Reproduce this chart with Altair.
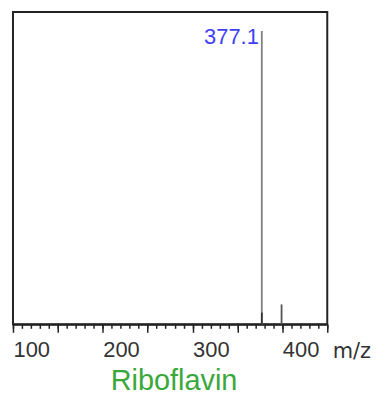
import altair as alt
import pandas as pd

# Peaks (m/z, relative intensity)
mz = [377.1, 377.1, 399.1]
intensity = [100.0, 4.0, 6.8]
kind = ["main", "base", "minor"]
label_text = ["377.1", "", ""]

major_ticks = list(range(100, 451, 50))
minor_ticks = list(range(100, 451, 10))

df = pd.DataFrame({"mz": mz, "intensity": intensity, "kind": kind, "label": label_text})

xscale = alt.Scale(domain=[100, 450], nice=False, zero=False)
yscale = alt.Scale(domain=[0, 106.5], nice=False, zero=True)

major_axis = alt.Axis(
    orient="bottom",
    values=major_ticks, tickSize=8, tickWidth=1.5, tickColor="#222",
    labelExpr="datum.value % 100 == 0 && datum.value < 450 ? datum.label : ''",
    labelAlign="left", labelBaseline="alphabetic", labelPadding=24,
    labelFont="Liberation Sans", labelFontSize=22, labelColor="#333",
    domain=True, domainColor="#222", domainWidth=2, grid=False,
    title="m/z", titleFont="DejaVu Sans", titleFontSize=21, titleFontWeight="normal",
    titleColor="#333", titleAlign="left", titleBaseline="alphabetic",
    titleX=321, titleY=33, labelOverlap=False,
)
minor_axis = alt.Axis(
    orient="bottom",
    values=minor_ticks, tickSize=4, tickWidth=1.5, tickColor="#222",
    labels=False, domain=False, grid=False, title=None,
)

base = alt.Chart(df)

peaks = base.mark_rule(strokeWidth=1.8).encode(
    x=alt.X("mz:Q", scale=xscale, axis=major_axis),
    y=alt.Y("intensity:Q", scale=yscale, axis=None),
    y2=alt.datum(0),
    color=alt.Color("kind:N", scale=alt.Scale(domain=["main", "base", "minor"],
                                             range=["#808080", "#333333", "#555555"]),
                    legend=None),
)

minor = base.mark_rule(opacity=0).encode(
    x=alt.X("mz:Q", scale=xscale, axis=minor_axis),
    y=alt.Y("intensity:Q", scale=yscale, axis=None),
)

labels = base.transform_filter("datum.label != ''").mark_text(
    align="right", baseline="alphabetic", dx=-3, dy=13,
    font="Liberation Sans", fontSize=22, color="#3f3ff5",
).encode(
    x=alt.X("mz:Q", scale=xscale, axis=None),
    y=alt.Y("intensity:Q", scale=yscale, axis=None),
    text="label:N",
)

chart = alt.layer(minor, peaks, labels).resolve_axis(x="independent").properties(
    width=316, height=314,
    autosize=alt.AutoSizeParams(type="none"),
    padding={"left": 5, "top": 3, "right": 50, "bottom": 75},
    title=alt.TitleParams(
        "Riboflavin", orient="bottom", anchor="middle", dx=4, offset=6,
        font="Liberation Sans", fontSize=29, fontWeight="normal", color="#3aa83a",
    ),
).configure_view(stroke="#222", strokeWidth=2)

chart.save("out.html", embed_options={"renderer": "svg", "actions": False})
